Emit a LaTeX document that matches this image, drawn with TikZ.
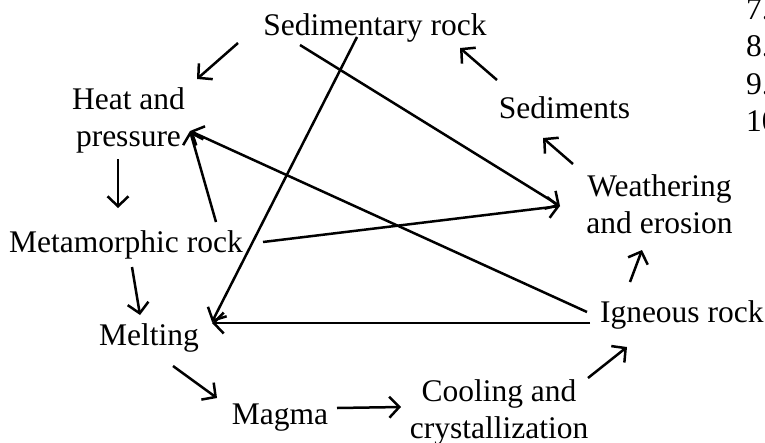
\documentclass[tikz,border=0pt]{standalone}
\usepackage{fontspec}
\setmainfont{Liberation Serif}
\usetikzlibrary{arrows.meta,calc}
\tikzset{
  lbl/.style={inner sep=0pt, outer sep=0pt, align=center, font=\fontsize{31.5pt}{37.5pt}\selectfont},
  numlbl/.style={inner sep=0pt, outer sep=0pt, anchor=base west, font=\fontsize{31.5pt}{37.5pt}\selectfont},
  arr/.style={line width=2.5pt, -{Straight Barb[length=10pt,width=21pt]}}
}
\begin{document}
\begin{tikzpicture}[x=1pt,y=-1pt]
\fill[white] (0,0) rectangle (765,442);
\useasboundingbox (0,0) rectangle (765,442);
\clip (0,0) rectangle (765,442);
% nodes
\node[lbl] (sed)   at (375,28.1)   {Sedimentary rock};
\node[lbl] (heat)  at (128.5,120.5) {Heat and\\pressure};
\node[lbl] (meta)  at (126,244.6)  {Metamorphic rock};
\node[lbl] (melt)  at (149,337.6)  {Melting};
\node[lbl] (magma) at (280,418)    {Magma};
\node[lbl] (cool)  at (499,412.4)  {Cooling and\\crystallization};
\node[lbl] (ign)   at (681.8,315.1) {Igneous rock};
\node[lbl] (weath) at (659.5,204)  {Weathering\\and erosion};
\node[lbl] (sedi)  at (564.5,107.9) {Sediments};
% cut-off list at the right edge
\node[numlbl] (n7)  at (746,19)    {7.};
\node[numlbl] (n8)  at (746,56.5)  {8.};
\node[numlbl] (n9)  at (746,94)    {9.};
\node[numlbl] (n10) at (746,131.5) {10.};
% connectors
\draw[arr] ($(sed)+(-137,14.9)$)   -- ($(heat)+(68.5,-41.5)$);
\draw[arr] ($(heat)+(-10.5,38.5)$) -- ($(meta)+(-8,-36.6)$);
\draw[arr] ($(meta)+(6,22.4)$)     -- ($(melt)+(-9,-22.6)$);
\draw[arr] ($(melt)+(24,28.4)$)    -- ($(magma)+(-63,-20)$);
\draw[arr] ($(magma)+(57,-10)$)    -- ($(cool)+(-98,-5.4)$);
\draw[arr] ($(cool)+(89,-34.4)$)   -- ($(ign)+(-54.8,31.9)$);
\draw[arr] ($(ign)+(-51.8,-33.1)$) -- ($(weath)+(-17.5,46)$);
\draw[arr] ($(weath)+(-86.5,-40)$) -- ($(sedi)+(-21.5,30.1)$);
\draw[arr] ($(sedi)+(-67.5,-27.9)$) -- ($(sed)+(85,19.9)$);
\draw[arr] ($(sed)+(-75,16.9)$)    -- ($(weath)+(-99.5,2)$);
\draw[arr] ($(sed)+(-18,8.9)$)     -- ($(melt)+(63,-15.6)$);
\draw[arr] ($(meta)+(90,-22.6)$)   -- ($(heat)+(61.5,10.5)$);
\draw[arr] ($(meta)+(137,-2.6)$)   -- ($(weath)+(-99.5,2)$);
\draw[arr] ($(ign)+(-94.8,-3.1)$)  -- ($(heat)+(61.5,10.5)$);
\draw[arr] ($(ign)+(-91.8,7.9)$)   -- ($(melt)+(63,-14.6)$);
\end{tikzpicture}
\end{document}
